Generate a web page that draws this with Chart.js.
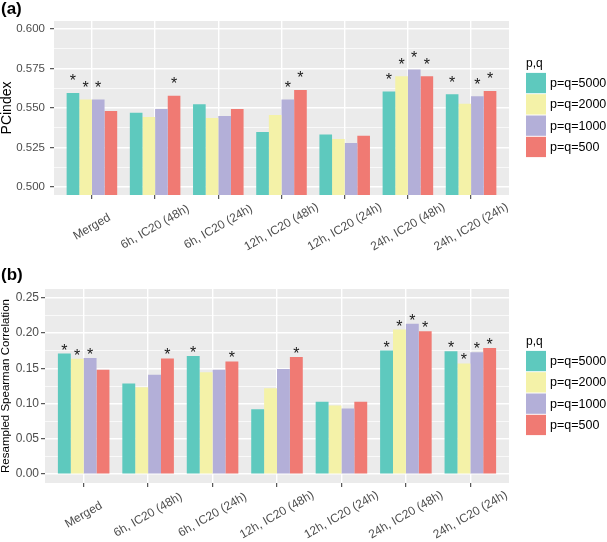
<!DOCTYPE html>
<html>
<head>
<meta charset="utf-8">
<script src="https://cdn.jsdelivr.net/npm/chart.js@4.4.1/dist/chart.umd.min.js"></script>
<style>
  body { margin: 0; background: #fff; width: 607px; height: 542px; overflow: hidden;
         font-family: "Liberation Sans", Arial, sans-serif; }
  .panel { position: relative; width: 607px; }
  #panelA { height: 270px; }
  #panelB { height: 272px; }
  .tag { position: absolute; left: 1px; font-weight: bold; font-size: 17px; color: #000; }
</style>
</head>
<body>
<div class="panel" id="panelA">
  <div class="tag" style="top:-1px">(a)</div>
  <canvas id="chartA"></canvas>
</div>
<div class="panel" id="panelB">
  <div class="tag" style="top:-5px">(b)</div>
  <canvas id="chartB"></canvas>
</div>
<script>
// categories and series
const groups = ['Merged', '6h, IC20 (48h)', '6h, IC20 (24h)', '12h, IC20 (48h)',
                '12h, IC20 (24h)', '24h, IC20 (48h)', '24h, IC20 (24h)'];
const seriesNames = ['p=q=5000', 'p=q=2000', 'p=q=1000', 'p=q=500'];
const seriesColors = ['#5ec9be', '#f4f2a8', '#b3afd8', '#f07a73'];

// (a) PCindex
const pcP5000 = [0.5595, 0.5470, 0.5523, 0.5348, 0.5333, 0.5605, 0.5587];
const pcP2000 = [0.5553, 0.5443, 0.5437, 0.5456, 0.5304, 0.5700, 0.5527];
const pcP1000 = [0.5553, 0.5494, 0.5449, 0.5553, 0.5278, 0.5743, 0.5574];
const pcP500  = [0.5481, 0.5578, 0.5494, 0.5614, 0.5325, 0.5700, 0.5608];
// significance marks (1 = asterisk)
const pcStar5000 = [1, 0, 0, 0, 0, 1, 1];
const pcStar2000 = [1, 0, 0, 0, 0, 1, 0];
const pcStar1000 = [1, 0, 0, 1, 0, 1, 1];
const pcStar500  = [0, 1, 0, 1, 0, 1, 1];
const pcTicks = [0.500, 0.525, 0.550, 0.575, 0.600];

// (b) resampled spearman correlation
const spP5000 = [0.1711, 0.1284, 0.1674, 0.0922, 0.1025, 0.1754, 0.1744];
const spP2000 = [0.1636, 0.1232, 0.1444, 0.1218, 0.0974, 0.2050, 0.1570];
const spP1000 = [0.1646, 0.1411, 0.1481, 0.1491, 0.0931, 0.2134, 0.1730];
const spP500  = [0.1481, 0.1641, 0.1599, 0.1660, 0.1025, 0.2026, 0.1787];
const spStar5000 = [1, 0, 1, 0, 0, 1, 1];
const spStar2000 = [1, 0, 0, 0, 0, 1, 1];
const spStar1000 = [1, 0, 0, 0, 0, 1, 1];
const spStar500  = [0, 1, 1, 1, 0, 1, 1];
const spTicks = [0.00, 0.05, 0.10, 0.15, 0.20, 0.25];

const STAR_OFFSET = 0.01; // asterisk sits this far above the bar (data units)

// grey panel behind everything
const panelBg = {
  id: 'panelBg',
  beforeDraw(chart) {
    const a = chart.chartArea, ctx = chart.ctx;
    ctx.save();
    ctx.fillStyle = '#ebebeb';
    ctx.fillRect(a.left, a.top, a.right - a.left, a.bottom - a.top);
    ctx.restore();
  }
};

// asterisks above significant bars
const starMarks = {
  id: 'starMarks',
  afterDatasetsDraw(chart) {
    const ctx = chart.ctx, y = chart.scales.y;
    ctx.save();
    ctx.fillStyle = '#1a1a1a';
    ctx.font = '16px "Liberation Sans", Arial, sans-serif';
    ctx.textAlign = 'center';
    ctx.textBaseline = 'alphabetic';
    chart.data.datasets.forEach((ds, di) => {
      const meta = chart.getDatasetMeta(di);
      ds.stars.forEach((s, i) => {
        if (!s) return;
        const bar = meta.data[i];
        const py = y.getPixelForValue(ds.data[i].y + STAR_OFFSET);
        ctx.fillText('*', bar.x, py + 16 * 0.57);
      });
    });
    ctx.restore();
  }
};

// x labels centred on the ticks, rotated 30 degrees
const xLabels = {
  id: 'xLabels',
  afterDraw(chart) {
    const ctx = chart.ctx, x = chart.scales.x;
    ctx.save();
    ctx.fillStyle = '#4d4d4d';
    ctx.font = '12px "Liberation Sans", Arial, sans-serif';
    ctx.textAlign = 'center';
    ctx.textBaseline = 'middle';
    groups.forEach((g, i) => {
      ctx.save();
      ctx.translate(x.getPixelForValue(i + 1), chart.chartArea.bottom + 32);
      ctx.rotate(-Math.PI / 6);
      ctx.fillText(g, 0, 0);
      ctx.restore();
    });
    ctx.restore();
  }
};

// ggplot style legend on the right
const sideLegend = {
  id: 'sideLegend',
  afterDraw(chart) {
    const ctx = chart.ctx, a = chart.chartArea;
    const keyH = 21.3, keyW = 20;
    const n = chart.data.datasets.length;
    const x0 = a.right + 17;
    const top = (a.top + a.bottom) / 2 + 7 - n * keyH / 2;
    ctx.save();
    ctx.fillStyle = '#000';
    ctx.font = '12px "Liberation Sans", Arial, sans-serif';
    ctx.textAlign = 'left';
    ctx.textBaseline = 'alphabetic';
    ctx.fillText('p,q', x0, top - 5);
    ctx.font = '12.5px "Liberation Sans", Arial, sans-serif';
    ctx.textBaseline = 'middle';
    chart.data.datasets.forEach((ds, i) => {
      const ky = top + i * keyH;
      ctx.fillStyle = ds.backgroundColor;
      ctx.fillRect(x0, ky + 0.5, keyW, keyH - 1);
      ctx.fillStyle = '#000';
      ctx.fillText(ds.label, x0 + keyW + 4, ky + keyH / 2 + 0.5);
    });
    ctx.restore();
  }
};

function expand(lo, hi) {
  const d = (hi - lo) * 0.05;
  return [lo - d, hi + d];
}

function withMinor(ticks) {
  const out = [];
  ticks.forEach((t, i) => {
    out.push({ value: t, minor: false });
    if (i < ticks.length - 1) out.push({ value: (t + ticks[i + 1]) / 2, minor: true });
  });
  return out;
}

function makeChart(id, values, stars, ticks, opts) {
  const [ymin, ymax] = expand(ticks[0], ticks[ticks.length - 1]);
  const datasets = values.map((vals, s) => ({
    label: seriesNames[s],
    data: vals.map((v, i) => ({ x: i + 1, y: v })),
    stars: stars[s],
    backgroundColor: seriesColors[s],
    borderWidth: 0,
    categoryPercentage: 0.8,
    barPercentage: 1.0
  }));
  return new Chart(document.getElementById(id), {
    type: 'bar',
    data: { datasets },
    options: {
      responsive: true,
      maintainAspectRatio: false,
      animation: false,
      devicePixelRatio: 1,
      layout: { padding: { top: opts.top, right: 98, left: 0, bottom: 0 } },
      plugins: { legend: { display: false }, tooltip: { enabled: false } },
      scales: {
        x: {
          type: 'linear',
          offset: false,
          min: 0.4,
          max: groups.length + 0.6,
          afterBuildTicks: (sc) => { sc.ticks = groups.map((g, i) => ({ value: i + 1 })); },
          afterFit: (sc) => { sc.height = opts.xHeight; },
          ticks: { display: false },
          grid: { offset: false, color: '#ffffff', lineWidth: 1.4, tickColor: '#333333', tickLength: 4, tickWidth: 1 },
          border: { display: false }
        },
        y: {
          min: ymin,
          max: ymax,
          afterBuildTicks: (sc) => { sc.ticks = withMinor(ticks); },
          afterFit: (sc) => { sc.width = opts.yWidth; },
          ticks: {
            color: '#4d4d4d',
            font: { family: '"Liberation Sans", Arial, sans-serif', size: opts.tickSize },
            padding: opts.tickPad,
            autoSkip: false,
            callback: (v, i, t) => (t[i].minor ? '' : v.toFixed(opts.digits))
          },
          grid: {
            color: '#ffffff',
            lineWidth: (c) => (c.tick && c.tick.minor ? 0.7 : 1.4),
            tickColor: (c) => (c.tick && c.tick.minor ? 'rgba(0,0,0,0)' : '#333333'),
            tickLength: 4,
            tickWidth: 1
          },
          border: { display: false },
          title: {
            display: true,
            text: opts.title,
            color: '#000',
            font: { family: '"Liberation Sans", Arial, sans-serif', size: opts.titleSize, lineHeight: 1 },
            padding: { top: opts.titlePad, bottom: 0 }
          }
        }
      }
    },
    plugins: [panelBg, starMarks, xLabels, sideLegend]
  });
}

makeChart('chartA',
  [pcP5000, pcP2000, pcP1000, pcP500],
  [pcStar5000, pcStar2000, pcStar1000, pcStar500],
  pcTicks,
  { top: 21, xHeight: 75, yWidth: 54, tickSize: 11.5, tickPad: 5, digits: 3,
    title: 'PCindex', titleSize: 14, titlePad: 0 });

makeChart('chartB',
  [spP5000, spP2000, spP1000, spP500],
  [spStar5000, spStar2000, spStar1000, spStar500],
  spTicks,
  { top: 19, xHeight: 59, yWidth: 45, tickSize: 12, tickPad: 2, digits: 2,
    title: 'Resampled Spearman Correlation', titleSize: 11.5, titlePad: 0.5 });
</script>
</body>
</html>
